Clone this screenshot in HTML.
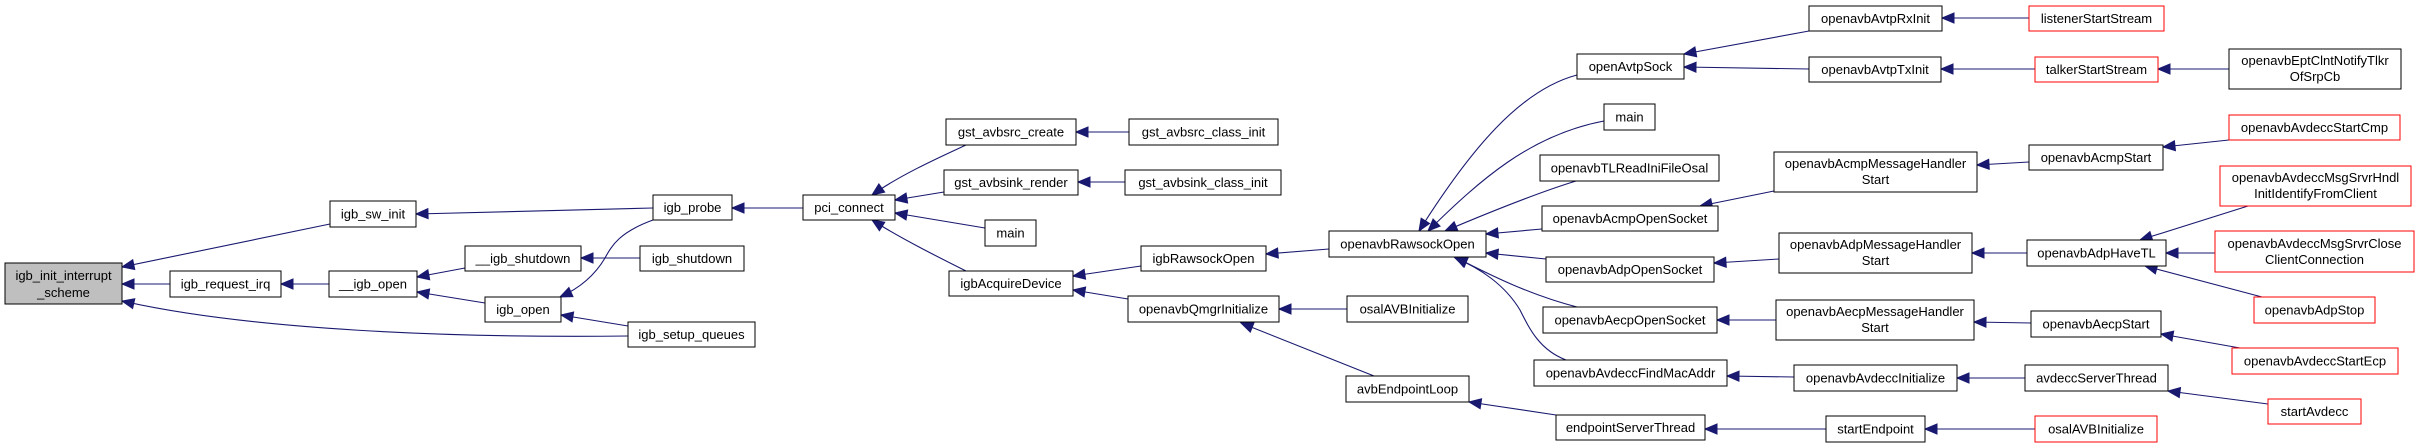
<!DOCTYPE html>
<html><head><meta charset="utf-8"><style>
html,body{margin:0;padding:0;background:#fff;}
svg{display:block;}
text{font-family:"Liberation Sans",sans-serif;font-size:13px;fill:#000;text-anchor:middle;}
.n{fill:#fff;stroke:#000;stroke-width:1;}
.r{fill:#fff;stroke:#ff0000;stroke-width:1;}
.g{fill:#bfbfbf;stroke:#000;stroke-width:1;}
.e{fill:none;stroke:#191970;stroke-width:1.1;}
</style></head><body>
<svg width="2420" height="448" viewBox="0 0 2420 448" xmlns="http://www.w3.org/2000/svg">
<defs><marker id="a" markerUnits="userSpaceOnUse" markerWidth="14" markerHeight="10" refX="12" refY="5" orient="auto" overflow="visible"><path d="M0,0 L12,5 L0,10 Z" fill="#191970" stroke="#191970"/></marker></defs>
<g class="edges">
<path class="e" marker-end="url(#a)" d="M330,224 L122,267"/>
<path class="e" marker-end="url(#a)" d="M170,284 L122,284"/>
<path class="e" marker-end="url(#a)" d="M628,336 C450,338 250,330 122,301"/>
<path class="e" marker-end="url(#a)" d="M329,284 L281,284"/>
<path class="e" marker-end="url(#a)" d="M465,268 L417,277"/>
<path class="e" marker-end="url(#a)" d="M485,303 L417,292"/>
<path class="e" marker-end="url(#a)" d="M653,208 L416,214"/>
<path class="e" marker-end="url(#a)" d="M640,258 L581,258"/>
<path class="e" marker-end="url(#a)" d="M653,220 C620,232 612,245 605,258 C595,275 580,288 560,297"/>
<path class="e" marker-end="url(#a)" d="M628,326 L561,315"/>
<path class="e" marker-end="url(#a)" d="M803,208 L732,208"/>
<path class="e" marker-end="url(#a)" d="M966,145 C940,157 900,175 872,195"/>
<path class="e" marker-end="url(#a)" d="M944,192 L895,200"/>
<path class="e" marker-end="url(#a)" d="M985,228 L895,213"/>
<path class="e" marker-end="url(#a)" d="M966,271 C940,258 900,238 872,220"/>
<path class="e" marker-end="url(#a)" d="M1129,132 L1076,132"/>
<path class="e" marker-end="url(#a)" d="M1125,182 L1078,182"/>
<path class="e" marker-end="url(#a)" d="M1141,266 L1073,276"/>
<path class="e" marker-end="url(#a)" d="M1128,299 L1073,290"/>
<path class="e" marker-end="url(#a)" d="M1329,249 L1266,254"/>
<path class="e" marker-end="url(#a)" d="M1347,309 L1279,309"/>
<path class="e" marker-end="url(#a)" d="M1374,376 L1241,323"/>
<path class="e" marker-end="url(#a)" d="M1577,75 C1520,90 1470,150 1419,231"/>
<path class="e" marker-end="url(#a)" d="M1604,121 C1530,135 1480,180 1428,231"/>
<path class="e" marker-end="url(#a)" d="M1576,181 C1540,192 1490,212 1445,231"/>
<path class="e" marker-end="url(#a)" d="M1542,229 L1486,234"/>
<path class="e" marker-end="url(#a)" d="M1546,259 L1486,253"/>
<path class="e" marker-end="url(#a)" d="M1577,307 C1530,295 1490,275 1455,257"/>
<path class="e" marker-end="url(#a)" d="M1566,360 C1540,350 1530,330 1520,310 C1505,285 1480,268 1455,258"/>
<path class="e" marker-end="url(#a)" d="M1556,415 L1469,402"/>
<path class="e" marker-end="url(#a)" d="M1809,31 L1684,54"/>
<path class="e" marker-end="url(#a)" d="M1809,69 L1684,67"/>
<path class="e" marker-end="url(#a)" d="M1774,191 L1700,206"/>
<path class="e" marker-end="url(#a)" d="M1779,259 L1714,263"/>
<path class="e" marker-end="url(#a)" d="M1776,320 L1717,320"/>
<path class="e" marker-end="url(#a)" d="M1794,377 L1727,376"/>
<path class="e" marker-end="url(#a)" d="M1826,429 L1705,429"/>
<path class="e" marker-end="url(#a)" d="M2029,18 L1942,18"/>
<path class="e" marker-end="url(#a)" d="M2035,69 L1941,69"/>
<path class="e" marker-end="url(#a)" d="M2229,69 L2158,69"/>
<path class="e" marker-end="url(#a)" d="M2229,140 L2163,147"/>
<path class="e" marker-end="url(#a)" d="M2029,162 L1977,165"/>
<path class="e" marker-end="url(#a)" d="M2248,206 L2140,240"/>
<path class="e" marker-end="url(#a)" d="M2215,253 L2166,253"/>
<path class="e" marker-end="url(#a)" d="M2262,297 L2145,266"/>
<path class="e" marker-end="url(#a)" d="M2027,253 L1972,253"/>
<path class="e" marker-end="url(#a)" d="M2031,323 L1974,322"/>
<path class="e" marker-end="url(#a)" d="M2240,348 L2161,334"/>
<path class="e" marker-end="url(#a)" d="M2025,378 L1957,378"/>
<path class="e" marker-end="url(#a)" d="M2268,404 L2168,391"/>
<path class="e" marker-end="url(#a)" d="M2035,429 L1925,429"/>
</g>
<g class="nodes">
<rect class="g" x="5" y="263" width="117" height="41"/><text x="63.5" y="280">igb_init_interrupt</text><text x="63.5" y="297">_scheme</text>
<rect class="n" x="330" y="201" width="86" height="26"/><text x="373" y="218.5">igb_sw_init</text>
<rect class="n" x="170" y="271" width="111" height="26"/><text x="225.5" y="288.5">igb_request_irq</text>
<rect class="n" x="329" y="271" width="88" height="26"/><text x="373" y="288.5">__igb_open</text>
<rect class="n" x="465" y="246" width="116" height="25"/><text x="523" y="263">__igb_shutdown</text>
<rect class="n" x="485" y="297" width="76" height="25"/><text x="523" y="314">igb_open</text>
<rect class="n" x="653" y="195" width="79" height="25"/><text x="692.5" y="212">igb_probe</text>
<rect class="n" x="640" y="246" width="104" height="25"/><text x="692" y="263">igb_shutdown</text>
<rect class="n" x="628" y="322" width="127" height="25"/><text x="691.5" y="339">igb_setup_queues</text>
<rect class="n" x="803" y="195" width="92" height="25"/><text x="849" y="212">pci_connect</text>
<rect class="n" x="946" y="119" width="130" height="26"/><text x="1011" y="136.5">gst_avbsrc_create</text>
<rect class="n" x="944" y="170" width="134" height="25"/><text x="1011" y="187">gst_avbsink_render</text>
<rect class="n" x="985" y="220" width="51" height="26"/><text x="1010.5" y="237.5">main</text>
<rect class="n" x="949" y="271" width="124" height="25"/><text x="1011" y="288">igbAcquireDevice</text>
<rect class="n" x="1129" y="119" width="149" height="26"/><text x="1203.5" y="136.5">gst_avbsrc_class_init</text>
<rect class="n" x="1125" y="170" width="156" height="25"/><text x="1203" y="187">gst_avbsink_class_init</text>
<rect class="n" x="1141" y="246" width="125" height="25"/><text x="1203.5" y="263">igbRawsockOpen</text>
<rect class="n" x="1128" y="296" width="151" height="26"/><text x="1203.5" y="313.5">openavbQmgrInitialize</text>
<rect class="n" x="1577" y="54" width="107" height="25"/><text x="1630.5" y="71">openAvtpSock</text>
<rect class="n" x="1604" y="104" width="51" height="26"/><text x="1629.5" y="121.5">main</text>
<rect class="n" x="1540" y="155" width="179" height="26"/><text x="1629.5" y="172.5">openavbTLReadIniFileOsal</text>
<rect class="n" x="1542" y="206" width="176" height="25"/><text x="1630" y="223">openavbAcmpOpenSocket</text>
<rect class="n" x="1329" y="231" width="157" height="26"/><text x="1407.5" y="248.5">openavbRawsockOpen</text>
<rect class="n" x="1546" y="257" width="168" height="25"/><text x="1630" y="274">openavbAdpOpenSocket</text>
<rect class="n" x="1543" y="307" width="174" height="26"/><text x="1630" y="324.5">openavbAecpOpenSocket</text>
<rect class="n" x="1534" y="360" width="193" height="26"/><text x="1630.5" y="377.5">openavbAvdeccFindMacAddr</text>
<rect class="n" x="1347" y="296" width="121" height="26"/><text x="1407.5" y="313.5">osalAVBInitialize</text>
<rect class="n" x="1346" y="376" width="123" height="26"/><text x="1407.5" y="393.5">avbEndpointLoop</text>
<rect class="n" x="1556" y="415" width="149" height="25"/><text x="1630.5" y="432">endpointServerThread</text>
<rect class="n" x="1809" y="6" width="133" height="25"/><text x="1875.5" y="23">openavbAvtpRxInit</text>
<rect class="n" x="1809" y="57" width="132" height="25"/><text x="1875" y="74">openavbAvtpTxInit</text>
<rect class="r" x="2029" y="6" width="135" height="25"/><text x="2096.5" y="23">listenerStartStream</text>
<rect class="r" x="2035" y="57" width="123" height="25"/><text x="2096.5" y="74">talkerStartStream</text>
<rect class="n" x="2229" y="49" width="172" height="40"/><text x="2315" y="65">openavbEptClntNotifyTlkr</text><text x="2315" y="81">OfSrpCb</text>
<rect class="r" x="2229" y="115" width="171" height="25"/><text x="2314.5" y="132">openavbAvdeccStartCmp</text>
<rect class="n" x="2029" y="145" width="134" height="25"/><text x="2096" y="162">openavbAcmpStart</text>
<rect class="n" x="1774" y="152" width="203" height="40"/><text x="1875.5" y="168">openavbAcmpMessageHandler</text><text x="1875.5" y="184">Start</text>
<rect class="r" x="2220" y="166" width="191" height="40"/><text x="2315.5" y="182">openavbAvdeccMsgSrvrHndl</text><text x="2315.5" y="198">InitIdentifyFromClient</text>
<rect class="n" x="1779" y="233" width="193" height="40"/><text x="1875.5" y="249">openavbAdpMessageHandler</text><text x="1875.5" y="265">Start</text>
<rect class="n" x="2027" y="240" width="139" height="26"/><text x="2096.5" y="257.5">openavbAdpHaveTL</text>
<rect class="r" x="2215" y="231" width="199" height="41"/><text x="2314.5" y="248">openavbAvdeccMsgSrvrClose</text><text x="2314.5" y="264">ClientConnection</text>
<rect class="r" x="2254" y="297" width="121" height="26"/><text x="2314.5" y="314.5">openavbAdpStop</text>
<rect class="n" x="1776" y="300" width="198" height="40"/><text x="1875" y="316">openavbAecpMessageHandler</text><text x="1875" y="332">Start</text>
<rect class="n" x="2031" y="311" width="130" height="26"/><text x="2096" y="328.5">openavbAecpStart</text>
<rect class="r" x="2232" y="348" width="166" height="26"/><text x="2315" y="365.5">openavbAvdeccStartEcp</text>
<rect class="n" x="1794" y="365" width="163" height="26"/><text x="1875.5" y="382.5">openavbAvdeccInitialize</text>
<rect class="n" x="2025" y="365" width="143" height="26"/><text x="2096.5" y="382.5">avdeccServerThread</text>
<rect class="r" x="2268" y="399" width="93" height="25"/><text x="2314.5" y="416">startAvdecc</text>
<rect class="n" x="1826" y="416" width="99" height="26"/><text x="1875.5" y="433.5">startEndpoint</text>
<rect class="r" x="2035" y="416" width="122" height="26"/><text x="2096" y="433.5">osalAVBInitialize</text>
</g>
</svg>
</body></html>
